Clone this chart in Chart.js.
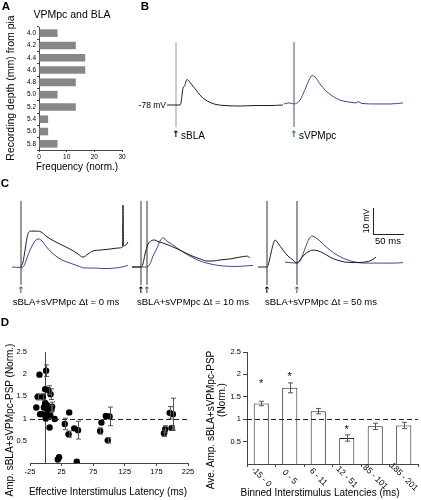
<!DOCTYPE html>
<html>
<head>
<meta charset="utf-8">
<title>VPMpc and BLA</title>
<script src="https://cdn.jsdelivr.net/npm/chart.js@4.4.1/dist/chart.umd.min.js"></script>
<style>
  html, body { margin: 0; background: #fff; }
  #fig { position: relative; width: 421px; height: 500px; overflow: hidden;
         font-family: "Liberation Sans", Arial, sans-serif; color: #000; }
  #fig canvas { position: absolute; }
  .t { position: absolute; white-space: nowrap; line-height: 1; transform: translate(-50%, -50%); }
  .l { transform: translate(0, -50%); }
  .r { transform: translate(-100%, -50%); }
  .v { transform: translate(-50%, -50%) rotate(-90deg); }
  .pl { font-weight: bold; font-size: 11.5px; }
  .arr { font-family: "DejaVu Sans", sans-serif; font-size: 9px; font-weight: bold; }
  .green { color: #1d7f2e; }
  .bar { position: absolute; border-left: 1px solid #222; border-bottom: 1px solid #222; }
</style>
</head>
<body>
<div id="fig">
  <canvas id="chartA" width="140" height="165" style="left:0;top:0"></canvas>
  <canvas id="chartB" width="281" height="115" style="left:140px;top:28px"></canvas>
  <canvas id="chartC1" width="132" height="96" style="left:0;top:196px"></canvas>
  <canvas id="chartC2" width="128" height="96" style="left:128px;top:196px"></canvas>
  <canvas id="chartC3" width="165" height="96" style="left:256px;top:196px"></canvas>
  <canvas id="chartDL" width="215" height="170" style="left:0;top:330px"></canvas>
  <canvas id="chartDR" width="221" height="170" style="left:200px;top:330px"></canvas>

  <!-- panel A -->
  <div class="t pl" style="left:6px;top:7px">A</div>
  <div class="t" style="left:72px;top:14px;font-size:10.5px">VPMpc and BLA</div>
  <div class="t v" style="left:10px;top:88px;font-size:10.5px">Recording depth (mm) from pia</div>
  <div class="t" style="left:77px;top:167px;font-size:10px">Frequency (norm.)</div>

  <!-- panel B -->
  <div class="t pl" style="left:145px;top:7px">B</div>
  <div class="t r" style="left:166px;top:105px;font-size:8.5px">-78 mV</div>
  <div class="t arr" style="left:176px;top:134px">↑</div>
  <div class="t l" style="left:181px;top:136px;font-size:10px">sBLA</div>
  <div class="t arr green" style="left:294px;top:134px">↑</div>
  <div class="t l" style="left:299px;top:136px;font-size:10px">sVPMpc</div>

  <!-- panel C -->
  <div class="t pl" style="left:5px;top:184px">C</div>
  <div class="t arr green" style="left:21px;top:290px">↑</div>
  <div class="t arr" style="left:141px;top:290px">↑</div>
  <div class="t arr green" style="left:147px;top:290px">↑</div>
  <div class="t arr" style="left:267px;top:290px">↑</div>
  <div class="t arr green" style="left:297px;top:290px">↑</div>
  <div class="t" style="left:66px;top:302px;font-size:9.5px">sBLA+sVPMpc Δt = 0 ms</div>
  <div class="t" style="left:193px;top:302px;font-size:9.5px">sBLA+sVPMpc Δt = 10 ms</div>
  <div class="t" style="left:321px;top:302px;font-size:9.5px">sBLA+sVPMpc Δt = 50 ms</div>
  <div class="bar" style="left:373px;top:208px;width:30px;height:26px"></div>
  <div class="t v" style="left:366px;top:221px;font-size:8.5px">10 mV</div>
  <div class="t" style="left:388px;top:241px;font-size:9.5px">50 ms</div>

  <!-- panel D -->
  <div class="t pl" style="left:5px;top:323px">D</div>
  <div class="t v" style="left:10px;top:420px;font-size:10px">Amp. sBLA+sVPMpc-PSP (Norm.)</div>
  <div class="t" style="left:108px;top:492px;font-size:10px">Effective Interstimulus Latency (ms)</div>
  <div class="t v" style="left:211px;top:420px;font-size:10px">Ave. Amp. sBLA+sVPMpc-PSP</div>
  <div class="t v" style="left:222px;top:400px;font-size:10px">(Norm.)</div>
  <div class="t" style="left:320px;top:493px;font-size:10px">Binned Interstimulus Latencies (ms)</div>
</div>

<script>
// ---- Panel A: recording depth histogram ----
const depthLabels = ['4.0', '4.2', '4.4', '4.6', '4.8', '5.0', '5.2', '5.4', '5.6', '5.8'];
const depthFreq = [6.7, 13.3, 16.7, 16.7, 13.3, 6.7, 13.3, 3.3, 3.3, 6.7];
const freqTicks = [0, 10, 20, 30];

// ---- Panel B: single stimulation traces (ms from sBLA, mV) ----
const bBlaTime = [-15, 6.7, 8.3, 11.7, 14.2, 18.3, 21.7, 26.7, 33.3, 40, 48.3, 56.7, 66.7, 81.7, 106.7, 131.7, 156.7, 178.3];
const bBlaMv = [-78, -78, -77.2, -71.5, -70.7, -68.2, -68.8, -70.3, -72.2, -74.2, -75.9, -77, -77.8, -78.2, -78.4, -78.2, -78.2, -78];
const bVpmTime = [180, 188.3, 196.7, 201.7, 206.7, 211.7, 216.7, 221.7, 226.7, 231.7, 240, 250, 261.7, 273.3, 286.7, 300, 303.3, 310, 331.7, 356.7, 378.3];
const bVpmMv = [-77.6, -77.2, -77.6, -77.2, -76.1, -73.8, -71.1, -68.4, -66.7, -67.2, -69.9, -72.6, -74.7, -76.1, -76.8, -77.2, -76.7, -77.4, -77.6, -77.6, -77.2];
const bStimTimes = [0, 196.7];
const bArtifact = [-86.5, -53.8];

// ---- Panel C: paired stimulation (black) over sVPMpc alone (blue) ----
const c1VpmTime = [-15, 0, 5, 10, 15, 20, 25, 28.3, 33.3, 40, 48.3, 58.3, 68.3, 81.7, 95, 106.7, 123.3, 140, 156.7, 168.3, 178.3];
const c1VpmMv = [-78, -78.2, -77.6, -74.5, -71.5, -69.2, -67.6, -67.2, -67.6, -69.5, -71.8, -73.8, -75.3, -76.5, -77.6, -78.4, -78.4, -78.6, -78.4, -78, -77.4];
const c1PairTime = [0, 3.3, 6.7, 10, 13.3, 16.7, 25, 33.3, 41.7, 51.7, 65, 81.7, 95, 103.3, 111.7, 120, 131.7, 148.3, 161.7, 169.2, 170, 170.8, 175, 178.3];
const c1PairMv = [-78, -76.1, -71.5, -66.8, -64.5, -64.2, -64.2, -64.5, -66.1, -67.6, -69.2, -71.1, -73, -74.2, -73, -71.8, -71.5, -71.1, -70.7, -70.3, -54.2, -69.9, -69.5, -68.4];
const c1Stims = [0];

const c2VpmTime = [-15, 0, 10, 15, 20, 26.7, 31.7, 36.7, 43.3, 53.3, 65, 81.7, 98.3, 110, 123.3, 136.7, 156.7, 173.3, 186.7];
const c2VpmMv = [-78, -78, -78, -76.8, -73.8, -70.7, -68, -66.8, -68, -69.5, -71.5, -73.8, -75.7, -76.5, -77.2, -77.6, -77.8, -77.6, -77.4];
const c2PairTime = [-15, 0, 3.3, 6.7, 11.7, 16.7, 21.7, 28.3, 36.7, 45, 53.3, 65, 81.7, 98.3, 110, 120, 131.7, 148.3, 165, 176.7, 181.7];
const c2PairMv = [-78, -78, -76.8, -73, -69.2, -68, -67.6, -68.2, -68.8, -69.5, -70.3, -71.5, -73.4, -74.9, -75.7, -75.7, -75.3, -74.9, -74.2, -73.8, -74.5];
const c2Stims = [0, 10];

const c3PairTime = [-15, 0, 3.3, 6.7, 10, 13.3, 18.3, 26.7, 35, 43.3, 50, 55, 61.7, 68.3, 76.7, 85, 93.3, 105, 116.7, 130, 146.7, 163.3, 175, 181.7];
const c3PairMv = [-78, -78, -76.1, -72.6, -69.5, -67.6, -68.8, -71.5, -73.8, -75.3, -76.5, -75.3, -73.4, -72.2, -71.5, -71.8, -72.6, -74.2, -75.3, -76.1, -76.3, -76.1, -75.3, -74.2];
const c3VpmTime = [30, 38.3, 50, 55, 60, 65, 70, 75, 81.7, 88.3, 96.7, 105, 116.7, 130, 146.7, 163.3, 188.3, 213.3, 226.7];
const c3VpmMv = [-76.1, -76.3, -76.5, -75.7, -73, -69.9, -67.2, -66.1, -66.8, -68, -69.9, -71.5, -73.4, -74.9, -76.1, -76.5, -76.5, -76.5, -76.3];
const c3Stims = [0, 50];
const cArtifact = [-84.9, -52.6];

// ---- Panel D left: individual cells ----
const dLatency = [-15, -13, -10, -9, -6, -5, -3, -2, -1, -1, 0, 0.5, 1, 2, 3, 4.5, 6, 7, 7.5, 9, 10, 14, 19, 21, 30, 36, 37, 45, 49, 51, 86, 88, 95, 98, 101, 187, 189, 196, 199, 201];
const dAmp = [1.25, 1.49, 1.99, 1.10, 1.10, 1.49, 1.25, 1.27, 1.66, 1.35, 1.00, 2.08, 1.22, 1.30, 1.12, 1.64, 0.80, 1.07, 1.55, 1.22, 1.27, 0.99, 0.08, 0.13, 0.88, 0.65, 1.14, 0.78, 0.03, 0.74, 0.72, 0.91, 1.06, 0.51, 1.05, 0.67, 0.76, 1.13, 0.79, 1.10];
const dAmpErr = [0, 0.07, 0, 0, 0, 0.07, 0, 0, 0, 0, 0, 0.13, 0, 0, 0, 0.10, 0, 0, 0.12, 0.08, 0.10, 0, 0, 0, 0.13, 0.07, 0, 0, 0, 0.20, 0.07, 0, 0, 0.06, 0.21, 0.07, 0.08, 0.14, 0.05, 0.36];
const latencyTicks = [-25, 25, 75, 125, 175, 225];
const ampTicks = [0.5, 1, 1.5, 2, 2.5];

// ---- Panel D right: binned averages ----
const binLabels = ['-15 - 0', '0 - 5', '6 - 11', '12 - 51', '85 - 101', '185 - 201'];
const binMeans = [1.35, 1.70, 1.18, 0.58, 0.84, 0.86];
const binErrs = [0.05, 0.11, 0.06, 0.07, 0.07, 0.07];
const binStarY = [1.85, 2.0, null, 0.82, null, null];

const FONT = '"Liberation Sans", Arial, sans-serif';
const BLACK = '#1c1c1c';
const BLUE = '#3a4899';
const PX_PER_MS = 0.6;
const PX_PER_MV = 2.6;

Chart.defaults.font.family = FONT;
Chart.defaults.color = '#000';
Chart.defaults.animation = false;

const pts = (xs, ys) => xs.map((x, i) => ({ x, y: ys[i] }));
const fixedTicks = vals => scale => { scale.ticks = vals.map(v => ({ value: v })); };
const plainNumber = v => String(v);
const noChrome = { legend: { display: false }, tooltip: { enabled: false } };

// Error bars from dataset.errors, placed with the chart's own y scale
const errorBarPlugin = {
    id: 'errorBars',
    afterDatasetsDraw(chart) {
        const ctx = chart.ctx;
        chart.data.datasets.forEach((ds, i) => {
            if (!ds.errors) return;
            const meta = chart.getDatasetMeta(i);
            const yScale = chart.scales[meta.yAxisID];
            ctx.save();
            ctx.strokeStyle = '#555';
            ctx.lineWidth = 1;
            meta.data.forEach((el, j) => {
                const err = ds.errors[j];
                if (!err) return;
                const v = meta.controller.getParsed(j).y;
                const top = yScale.getPixelForValue(v + err);
                const bot = yScale.getPixelForValue(v - err);
                const x = Math.round(el.x) + 0.5;
                ctx.beginPath();
                ctx.moveTo(x, top); ctx.lineTo(x, bot);
                ctx.moveTo(x - 2.5, top); ctx.lineTo(x + 2.5, top);
                ctx.moveTo(x - 2.5, bot); ctx.lineTo(x + 2.5, bot);
                ctx.stroke();
            });
            ctx.restore();
        });
    }
};

// Dashed reference line (normalised amplitude of 1)
const refLinePlugin = {
    id: 'refLine',
    afterDatasetsDraw(chart, args, opts) {
        const ctx = chart.ctx;
        const y = Math.round(chart.scales.y.getPixelForValue(opts.value)) + 0.5;
        ctx.save();
        ctx.setLineDash([5, 3]);
        ctx.strokeStyle = '#222';
        ctx.lineWidth = 1.1;
        ctx.beginPath();
        ctx.moveTo(chart.chartArea.left, y);
        ctx.lineTo(chart.chartArea.right, y);
        ctx.stroke();
        ctx.restore();
    }
};

// Slanted bin labels and significance stars for the bar chart
const binTextPlugin = {
    id: 'binText',
    afterDraw(chart) {
        const { ctx, scales: { x, y } } = chart;
        ctx.save();
        ctx.fillStyle = '#000';
        ctx.textAlign = 'center';
        ctx.textBaseline = 'middle';
        ctx.font = '8.5px ' + FONT;
        binLabels.forEach((lab, i) => {
            ctx.save();
            ctx.translate(x.getPixelForValue(i), x.top + 13);
            ctx.rotate(Math.PI / 4);
            ctx.fillText(lab, 0, 0);
            ctx.restore();
        });
        ctx.font = '11px ' + FONT;
        binStarY.forEach((v, i) => {
            if (v == null) return;
            ctx.fillText('*', x.getPixelForValue(i), y.getPixelForValue(v) + 2.5);
        });
        ctx.restore();
    }
};

function timeRange(canvas, zeroPx) {
    const left = canvas.offsetLeft;
    return [(left - zeroPx) / PX_PER_MS, (left + canvas.width - zeroPx) / PX_PER_MS];
}

function mvRange(canvas, restPx, rest) {
    const top = canvas.offsetTop;
    return [rest - (top + canvas.height - restPx) / PX_PER_MV, rest + (restPx - top) / PX_PER_MV];
}

/**
 * Voltage traces: no visible axes, time and voltage scaled like the original recording
 */
function traceChart(id, zeroPx, restPx, traces, stims, artifact, stimColors) {
    const canvas = document.getElementById(id);
    const xr = timeRange(canvas, zeroPx);
    const yr = mvRange(canvas, restPx, -78);
    const datasets = traces.map(tr => ({
        data: pts(tr.t, tr.v),
        borderColor: tr.color,
        borderWidth: 1,
        pointRadius: 0,
        showLine: true,
        cubicInterpolationMode: 'monotone'
    }));
    stims.forEach((t, i) => datasets.push({
        data: [{ x: t, y: artifact[0] }, { x: t, y: artifact[1] }],
        borderColor: stimColors[i],
        borderWidth: 1,
        pointRadius: 0,
        showLine: true
    }));
    return new Chart(canvas, {
        type: 'scatter',
        data: { datasets },
        options: {
            responsive: false,
            events: [],
            layout: { padding: 0 },
            plugins: noChrome,
            scales: {
                x: { type: 'linear', display: false, min: xr[0], max: xr[1] },
                y: { type: 'linear', display: false, min: yr[0], max: yr[1] }
            }
        }
    });
}

// Panel A
new Chart(document.getElementById('chartA'), {
    type: 'bar',
    data: {
        labels: depthLabels,
        datasets: [{ data: depthFreq, backgroundColor: '#878787', barPercentage: 0.62, categoryPercentage: 1 }]
    },
    options: {
        indexAxis: 'y',
        responsive: false,
        events: [],
        layout: { padding: { left: 0, top: 27, right: 18, bottom: 0 } },
        plugins: noChrome,
        scales: {
            x: {
                min: 0, max: 30,
                afterBuildTicks: fixedTicks(freqTicks),
                afterFit: s => { s.height = 15; },
                ticks: { font: { size: 6.5 }, padding: 1, maxRotation: 0, callback: plainNumber },
                grid: { drawOnChartArea: false, tickLength: 2, color: '#444' },
                border: { color: '#444' }
            },
            y: {
                afterFit: s => { s.width = 39; },
                ticks: { font: { size: 6.5 }, padding: 1 },
                grid: { drawOnChartArea: false, tickLength: 2, color: '#444' },
                border: { color: '#444' }
            }
        }
    }
});

// Panel B
traceChart('chartB', 176, 105,
    [{ t: bBlaTime, v: bBlaMv, color: BLACK }, { t: bVpmTime, v: bVpmMv, color: BLUE }],
    bStimTimes, bArtifact, ['#9a9a9a', '#4b4f78']);

// Panel C
traceChart('chartC1', 21, 267,
    [{ t: c1PairTime, v: c1PairMv, color: BLACK }, { t: c1VpmTime, v: c1VpmMv, color: BLUE }],
    c1Stims, cArtifact, ['#333']);
traceChart('chartC2', 141, 267,
    [{ t: c2PairTime, v: c2PairMv, color: BLACK }, { t: c2VpmTime, v: c2VpmMv, color: BLUE }],
    c2Stims, cArtifact, ['#333', '#333']);
traceChart('chartC3', 267, 267,
    [{ t: c3PairTime, v: c3PairMv, color: BLACK }, { t: c3VpmTime, v: c3VpmMv, color: BLUE }],
    c3Stims, cArtifact, ['#333', '#333']);

// Panel D left
new Chart(document.getElementById('chartDL'), {
    type: 'scatter',
    data: {
        datasets: [{
            data: pts(dLatency, dAmp),
            errors: dAmpErr,
            backgroundColor: '#000',
            borderColor: '#000',
            pointRadius: 3.2,
            pointBorderWidth: 0
        }]
    },
    options: {
        responsive: false,
        events: [],
        layout: { padding: { left: 0, top: 22, right: 27, bottom: 0 } },
        plugins: Object.assign({ refLine: { value: 1 } }, noChrome),
        scales: {
            x: {
                type: 'linear', min: -25, max: 225,
                afterBuildTicks: fixedTicks(latencyTicks),
                afterFit: s => { s.height = 37; },
                ticks: { font: { size: 7.5 }, padding: 1, maxRotation: 0, callback: plainNumber },
                grid: { drawOnChartArea: false, tickLength: 3, color: '#444' },
                border: { color: '#444' }
            },
            y: {
                type: 'linear', position: 'left', min: 0, max: 2.5,
                afterBuildTicks: fixedTicks(ampTicks),
                afterFit: s => { s.width = 30; },
                ticks: { font: { size: 7.5 }, padding: 3, callback: plainNumber },
                grid: { display: false, drawTicks: false },
                border: { display: false }
            },
            y0: {
                type: 'linear', position: { x: 0 }, min: 0, max: 2.5,
                ticks: { display: false },
                grid: { display: false, drawTicks: false },
                border: { color: '#444' }
            }
        }
    },
    plugins: [errorBarPlugin, refLinePlugin]
});

// Panel D right
new Chart(document.getElementById('chartDR'), {
    type: 'bar',
    data: {
        labels: binLabels,
        datasets: [{
            data: binMeans,
            errors: binErrs,
            backgroundColor: '#fff',
            borderColor: '#222',
            borderWidth: 1,
            barPercentage: 0.53,
            categoryPercentage: 1
        }]
    },
    options: {
        responsive: false,
        events: [],
        layout: { padding: { left: 0, top: 22, right: 3, bottom: 0 } },
        plugins: Object.assign({ refLine: { value: 1 } }, noChrome),
        scales: {
            x: {
                afterFit: s => { s.height = 36; },
                ticks: { display: false },
                grid: { drawOnChartArea: false, tickLength: 3, color: '#444' },
                border: { color: '#444' }
            },
            y: {
                min: 0, max: 2.5,
                afterBuildTicks: fixedTicks(ampTicks),
                afterFit: s => { s.width = 47; },
                ticks: { font: { size: 7.5 }, padding: 2, callback: plainNumber },
                grid: { drawOnChartArea: false, tickLength: 4, color: '#444' },
                border: { color: '#444' }
            }
        }
    },
    plugins: [errorBarPlugin, refLinePlugin, binTextPlugin]
});
</script>
</body>
</html>
